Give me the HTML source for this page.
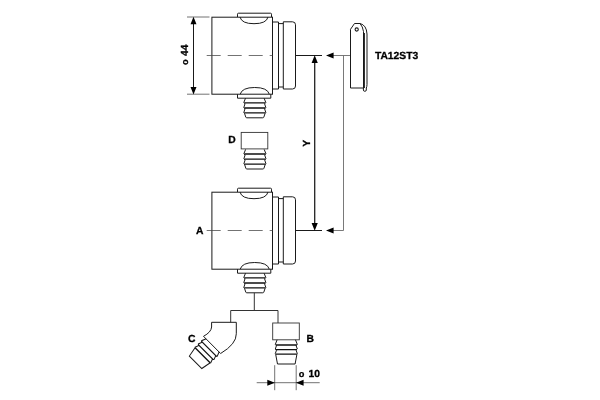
<!DOCTYPE html>
<html><head><meta charset="utf-8"><title>TA12ST3</title>
<style>
html,body{margin:0;padding:0;background:#fff;}
body{width:600px;height:400px;overflow:hidden;}
svg{display:block;will-change:transform;}
text{font-family:"Liberation Sans",Arial,Helvetica,sans-serif;font-weight:bold;font-size:10.3px;fill:#000;stroke:#000;stroke-width:.3px;text-rendering:geometricPrecision;}
.m{fill:none;stroke:#1a1a1a;stroke-width:1;}
.t{fill:none;stroke:#444;stroke-width:0.75;}
.k{fill:none;stroke:#111;stroke-width:1.3;}
.a{fill:#000;stroke:none;}
</style></head>
<body>
<svg width="600" height="400" viewBox="0 0 600 400">
<defs>
  <!-- barb A: short end, origin top centre -->
  <g id="barbA">
    <path class="m" d="M-9.3,0 L-11,4.3 L-9.8,5.6 L-11,9.3 L-9.8,10.6 L-11,14.3 L-10.2,15.4 L-9,19 Q-8.8,19.6 -8,19.6 L8,19.6 Q8.8,19.6 9,19 L10.2,15.4 L11,14.3 L9.8,10.6 L11,9.3 L9.8,5.6 L11,4.3 L9.3,0"/>
    <path class="k" d="M-10.6,4.6 H10.6 M-10.6,9.8 H10.6 M-10.6,14.7 H10.6"/>
  </g>
  <!-- barb B: long end -->
  <g id="barbB">
    <path class="m" d="M-9.2,0 L-11,4.6 L-9.8,5.8 L-11,9.2 L-9.8,10.4 L-11,13.8 L-10.6,14.6 L-8.8,24.2 L8.8,24.2 L10.6,14.6 L11,13.8 L9.8,10.4 L11,9.2 L9.8,5.8 L11,4.6 L9.2,0"/>
    <path class="k" d="M-10.6,5.2 H10.6 M-10.6,9.8 H10.6 M-10.6,14.3 H10.6"/>
  </g>
  <!-- valve body, origin = top-left page coords of upper unit -->
  <g id="unit">
    <rect class="m" x="211.900" y="17.200" width="60.600" height="77"/>
    <path class="m" d="M237.5,17 V14.2 Q237.5,13.2 238.5,13.2 H270.5 Q271.5,13.2 271.5,14.2 V17"/>
    <path class="m" d="M240,17 Q241.5,23.7 254,23.7 Q266.500,23.7 268,17"/>
    <path class="m" d="M240.200,94.2 Q242,87.5 254.700,87.500 Q267.500,87.500 269.300,94.2"/>
    <path class="m" d="M237.500,94.2 V98.2 H270.800 V94.2"/>
    <use href="#barbA" x="254.800" y="98.2"/>
    <path class="m" d="M272.500,22 H278.500 V89 H272.500"/>
    <path class="m" d="M278.500,23.600 H283.300 M278.500,87 H283.300"/>
    <path class="m" d="M283.300,21.800 H292.500 Q295.500,21.800 295.500,24.800 V86 Q295.500,89 292.500,89 H283.300 Z"/>
    <path class="t" d="M206.700,55.500 H272.500" stroke-dasharray="14 7"/>
    <path class="m" d="M295.500,55.500 H322"/>
  </g>
</defs>

<use href="#unit"/>
<use href="#unit" y="175"/>

<!-- o 44 dimension -->
<path class="t" d="M187,17 H209.500 M187,94.2 H209.500"/>
<path class="m" d="M193.500,20 V91"/>
<path class="a" d="M193.500,16.800 L196.500,24.200 H190.500 Z M193.500,94.400 L196.500,87 H190.500 Z"/>
<text transform="translate(187.700,65.100) rotate(-90)"><tspan font-size="9.2">o</tspan><tspan x="9" >44</tspan></text>

<!-- D -->
<rect class="t" x="241.200" y="132.400" width="26.600" height="16.500" style="stroke:#333;stroke-width:.9"/>
<use href="#barbA" x="254.900" y="149.400"/>
<text x="228.300" y="142.900">D</text>

<!-- A -->
<text x="195.900" y="233.800">A</text>

<!-- Y dimension -->
<path class="k" d="M314.700,60 V226" style="stroke:#222"/>
<path class="a" d="M314.700,55.300 L317.800,63 H311.600 Z M314.700,230.700 L317.800,223 H311.600 Z"/>
<text transform="translate(310.400,146.800) rotate(-90)">Y</text>

<!-- leader from tag -->
<path class="t" d="M332,55.500 H350.500 M343.500,55.500 V230.500 H332" style="stroke:#6a6a6a;stroke-width:.9"/>
<path class="a" d="M326,55.500 L333.600,52.500 V58.500 Z M326,230.500 L333.600,227.500 V233.500 Z"/>

<!-- tag TA12ST3 -->
<path class="m" d="M350.500,88 V29.300 L354.500,23.500 H360 Q362.800,26.500 363.500,31.500 V88 Z"/>
<path class="m" d="M360,23.500 Q366.500,25 367,34 V84.500 Q367,86.500 366.300,88 V90 Q366.300,91.300 364.800,91.300 Q363.400,91.300 363.400,90 V88"/>
<path class="m" d="M364.400,33 V88" />
<circle class="m" cx="356.700" cy="29.500" r="1.600" style="stroke-width:1.1"/>
<text x="374.900" y="59.100">TA12ST3</text>

<!-- lower manifold -->
<path class="m" d="M254.300,292.800 V310.500 M230.700,322.300 V310.500 H278 V323" style="stroke:#333"/>

<!-- B -->
<rect class="t" x="272.700" y="323" width="26.600" height="16.800" style="stroke:#333;stroke-width:.9"/>
<use href="#barbB" x="286.300" y="339.800"/>
<text x="306.600" y="341.500">B</text>

<!-- o 10 dimension -->
<path class="t" d="M274.700,365.200 V390.200 M296.200,365.200 V390.200 M256.700,382.700 H319.700"/>
<path class="a" d="M274.900,382.700 L267.300,379.700 V385.700 Z M296,382.700 L303.600,379.700 V385.700 Z"/>
<text x="298.700" y="377.100"><tspan font-size="9.2">o</tspan><tspan x="308.500">10</tspan></text>

<!-- C elbow -->
<path class="m" d="M220.600,353.500 L203.500,336.300 Q211.200,332.200 211.600,327 V322.300 H236.300 V333.750 Q236.500,344 220.600,353.500"/>
<use href="#barbB" transform="translate(212.700,345.200) rotate(45)"/>
<text x="188" y="341.700">C</text>
</svg>
</body></html>
